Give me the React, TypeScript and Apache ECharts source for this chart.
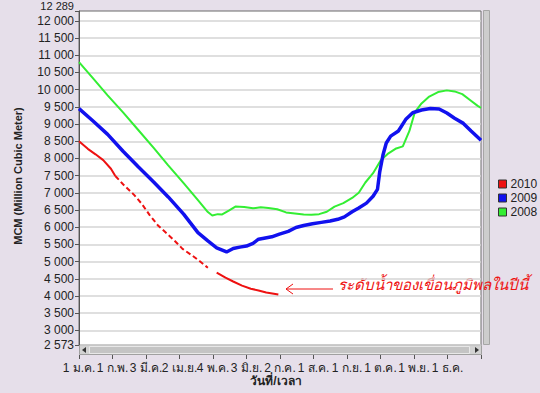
import React, { useEffect, useRef } from 'react';
import * as echarts from 'echarts';

const monthLabels = ['1 ม.ค.', '1 ก.พ.', '3 มี.ค.', '2 เม.ย.', '4 พ.ค.', '3 มิ.ย.', '2 ก.ค.', '1 ส.ค.', '1 ก.ย.', '1 ต.ค.', '1 พ.ย.', '1 ธ.ค.'];
const yTicks = [2573, 3000, 3500, 4000, 4500, 5000, 5500, 6000, 6500, 7000, 7500, 8000, 8500, 9000, 9500, 10000, 10500, 11000, 11500, 12000];
const yTopTick = [12289];

const days2008 = [0, 13, 26, 40, 54, 68, 81, 95, 108, 117, 121, 126, 130, 136, 142, 150, 158, 165, 172, 180, 188, 196, 204, 211, 218, 225, 232, 240, 248, 254, 260, 267, 274, 281, 288, 294, 300, 305, 311, 318, 326, 334, 341, 348, 355, 362, 365];
const mcm2008 = [10800, 10320, 9835, 9340, 8820, 8300, 7800, 7280, 6790, 6440, 6340, 6380, 6370, 6480, 6600, 6590, 6550, 6580, 6560, 6520, 6430, 6400, 6370, 6360, 6380, 6450, 6600, 6700, 6850, 7000, 7300, 7570, 7950, 8150, 8290, 8350, 8800, 9350, 9600, 9800, 9930, 9980, 9950, 9870, 9700, 9530, 9470];

const days2009 = [0, 13, 26, 40, 54, 68, 81, 95, 108, 117, 125, 134, 140, 146, 152, 158, 163, 168, 175, 182, 190, 197, 204, 212, 220, 228, 235, 241, 248, 254, 261, 267, 271, 273, 276, 279, 283, 290, 297, 303, 311, 319, 327, 334, 341, 349, 356, 365];
const mcm2009 = [9450, 9080, 8700, 8210, 7750, 7310, 6880, 6380, 5840, 5600, 5400, 5280, 5380, 5420, 5450, 5530, 5650, 5680, 5720, 5800, 5880, 5990, 6050, 6100, 6140, 6180, 6230, 6300, 6450, 6560, 6700, 6900, 7100, 7600, 8100, 8450, 8650, 8800, 9150, 9330, 9410, 9450, 9440, 9320, 9170, 9020, 8800, 8530];

const days2010a = [0, 8, 15, 22, 29, 33];
const mcm2010a = [8500, 8280, 8120, 7950, 7700, 7490];
const days2010b = [33, 40, 50, 57, 64, 72, 80, 87, 94, 103, 110, 117];
const mcm2010b = [7490, 7250, 6940, 6680, 6360, 6040, 5810, 5600, 5370, 5170, 5000, 4820];
const days2010c = [125, 133, 140, 148, 156, 163, 170, 181];
const mcm2010c = [4680, 4530, 4420, 4300, 4210, 4160, 4100, 4040];

const seriesNames = ['2010', '2009', '2008'];
const seriesColors = ['#ee1111', '#1111ee', '#33ee33'];

const FONT = 'Liberation Sans, Arial, Noto Sans, sans-serif';

const zip = (xs: number[], ys: number[]) => xs.map((x, i) => [x, ys[i]]);
const fmtNum = (v: number) => String(Math.round(v)).replace(/\B(?=(\d{3})+(?!\d))/g, ' ');

export default function App() {
  const ref = useRef<HTMLDivElement>(null);
  useEffect(() => {
    document.body.style.margin = '0';
    const chart = echarts.init(ref.current!, null, { renderer: 'svg' });
    const lineBase = { type: 'line', showSymbol: false, symbol: 'none', silent: true };
    const yLabel = { margin: 5, fontSize: 12, lineHeight: 9, color: '#222', fontFamily: FONT, formatter: fmtNum, showMinLabel: true, showMaxLabel: true, hideOverlap: false };
    chart.setOption({
      animation: false,
      backgroundColor: '#e6dfea',
      textStyle: { fontFamily: FONT },
      grid: { left: 79, right: 59, top: 9, bottom: 48, show: true, backgroundColor: '#ffffff', borderColor: '#6a6a6a', borderWidth: 1 },
      legend: {
        orient: 'vertical', left: 493, top: 173, itemWidth: 8, itemHeight: 8, itemGap: 2,
        icon: 'rect', data: seriesNames,
        textStyle: { fontSize: 12, color: '#222', fontFamily: FONT, padding: [0, 0, 0, -1] },
        itemStyle: { borderColor: '#333', borderWidth: 1 },
      },
      xAxis: {
        type: 'value', min: 0, max: 365, interval: 365 / 12, offset: 10,
        axisLine: { show: false },
        axisTick: { show: true, length: 4, lineStyle: { color: '#555' } },
        splitLine: { show: false },
        axisLabel: {
          margin: 7, fontSize: 12, color: '#222', fontFamily: FONT,
          formatter: (v: number) => monthLabels[Math.round(v / (365 / 12))] ?? '',
        },
      },
      yAxis: [
        {
          type: 'value', min: 2573, max: 12289, position: 'left',
          axisLine: { show: true, lineStyle: { color: '#555' } },
          axisTick: { show: true, length: 4, customValues: yTicks, lineStyle: { color: '#555' } },
          axisLabel: { ...yLabel, customValues: yTicks },
          splitLine: { show: true, lineStyle: { color: '#d4d4d4', width: 1.5 } },
        },
        {
          type: 'value', min: 2573, max: 12289, position: 'left', offset: 0,
          axisLine: { show: false },
          axisTick: { show: true, length: 4, customValues: yTopTick, lineStyle: { color: '#555' } },
          axisLabel: { ...yLabel, fontSize: 11, lineHeight: 11, verticalAlign: 'bottom', customValues: yTopTick },
          splitLine: { show: false },
        },
      ],
      series: [
        { ...lineBase, name: '2008', data: zip(days2008, mcm2008), color: seriesColors[2], lineStyle: { width: 2, color: seriesColors[2] } },
        { ...lineBase, name: '2009', data: zip(days2009, mcm2009), color: seriesColors[1], lineStyle: { width: 3.5, color: seriesColors[1] } },
        { ...lineBase, name: '2010', data: zip(days2010a, mcm2010a), color: seriesColors[0], lineStyle: { width: 2, color: seriesColors[0] } },
        { ...lineBase, name: '2010', data: zip(days2010b, mcm2010b), color: seriesColors[0], lineStyle: { width: 2, color: seriesColors[0], type: [5, 3] } },
        { ...lineBase, name: '2010', data: zip(days2010c, mcm2010c), color: seriesColors[0], lineStyle: { width: 2, color: seriesColors[0] } },
      ],
      graphic: [
        { type: 'rect', shape: { x: 79.5, y: 345.5, width: 402, height: 9 }, style: { fill: '#d2d2d2', stroke: '#a0a0a0', lineWidth: 1 } },
        { type: 'rect', shape: { x: 89.5, y: 346.5, width: 380, height: 7 }, style: { fill: '#c4c4c4', stroke: '#e8e8e8', lineWidth: 1 } },
        { type: 'polygon', shape: { points: [[86, 347], [86, 353], [82, 350]] }, style: { fill: '#333' } },
        { type: 'polygon', shape: { points: [[475, 347], [475, 353], [479, 350]] }, style: { fill: '#333' } },
        { type: 'rect', shape: { x: 483.5, y: 10.5, width: 6, height: 334 }, style: { fill: '#cdcdcd', stroke: '#a6a6a6', lineWidth: 1 } },
        {
          type: 'text', x: 18, y: 176, rotation: Math.PI / 2,
          style: { text: 'MCM (Million Cubic Meter)', fontSize: 11, fontWeight: 'bold', fill: '#222', align: 'center', verticalAlign: 'middle', fontFamily: FONT },
        },
        {
          type: 'text', x: 276, y: 381,
          style: { text: 'วันที่/เวลา', fontSize: 12, fontWeight: 'bold', fill: '#222', align: 'center', verticalAlign: 'middle', fontFamily: FONT },
        },
        {
          type: 'text', x: 338, y: 284,
          style: { text: 'ระดับน้ำของเขื่อนภูมิพลในปีนี้', fontSize: 15, fontStyle: 'italic', fill: '#ee1111', align: 'left', verticalAlign: 'middle', fontFamily: FONT },
        },
        { type: 'line', shape: { x1: 286, y1: 289, x2: 333, y2: 289 }, style: { stroke: '#ee1111', lineWidth: 1 } },
        { type: 'polyline', shape: { points: [[293, 284], [286, 289], [293, 294]] }, style: { stroke: '#ee1111', lineWidth: 1, fill: 'none' } },
      ],
    });
    return () => chart.dispose();
  }, []);
  return <div ref={ref} style={{ width: 540, height: 393, position: 'absolute', left: 0, top: 0 }} />;
}
